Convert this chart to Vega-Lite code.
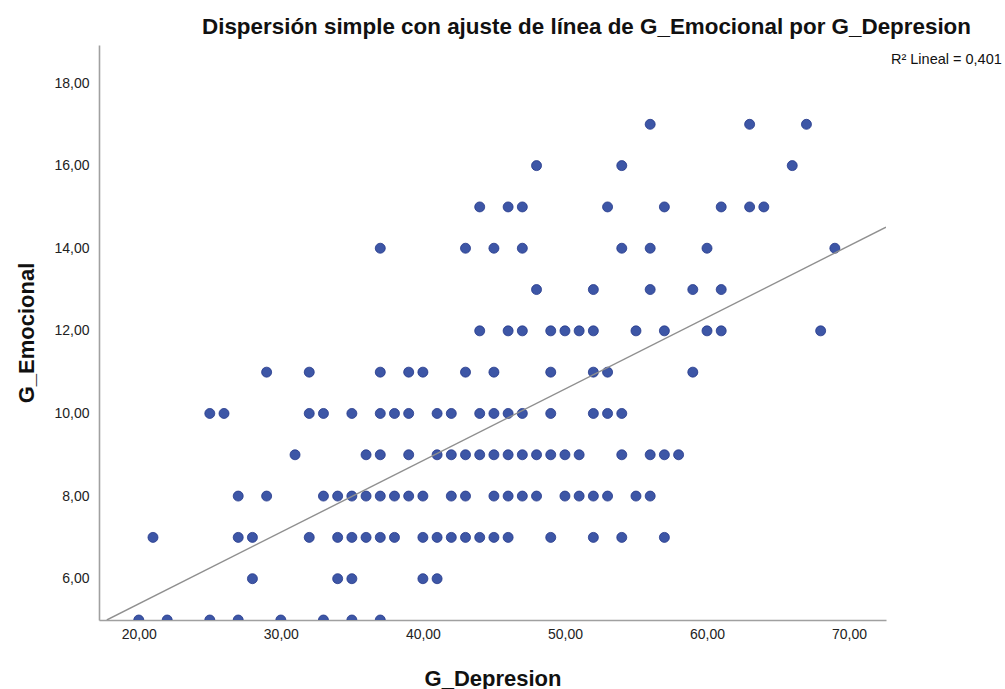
{
  "$schema": "https://vega.github.io/schema/vega-lite/v6.json",
  "autosize": "none",
  "width": 787,
  "height": 575,
  "padding": {"left": 99, "top": 45, "right": 119, "bottom": 69},
  "background": "white",
  "title": {
    "text": "Dispersión simple con ajuste de línea de G_Emocional por G_Depresion",
    "font": "Liberation Sans",
    "fontSize": 22.4,
    "fontWeight": "bold",
    "color": "#111",
    "anchor": "middle",
    "dx": 94,
    "offset": 7
  },
  "config": {
    "view": {"stroke": null},
    "axis": {
      "grid": false,
      "ticks": false,
      "domainColor": "#a0a0a0",
      "domainWidth": 1.6,
      "labelFont": "Liberation Sans",
      "labelFontSize": 14,
      "labelColor": "#222",
      "titleFont": "Liberation Sans",
      "titleFontSize": 22,
      "titleFontWeight": "bold",
      "titleColor": "#111",
      "zindex": 1
    }
  },
  "datasets": {
    "pts": [
      {"G_Depresion": 20, "G_Emocional": 5}, {"G_Depresion": 22, "G_Emocional": 5}, {"G_Depresion": 25, "G_Emocional": 5}, {"G_Depresion": 27, "G_Emocional": 5}, {"G_Depresion": 30, "G_Emocional": 5}, {"G_Depresion": 33, "G_Emocional": 5}, {"G_Depresion": 35, "G_Emocional": 5}, {"G_Depresion": 37, "G_Emocional": 5},
      {"G_Depresion": 28, "G_Emocional": 6}, {"G_Depresion": 34, "G_Emocional": 6}, {"G_Depresion": 35, "G_Emocional": 6}, {"G_Depresion": 40, "G_Emocional": 6}, {"G_Depresion": 41, "G_Emocional": 6},
      {"G_Depresion": 21, "G_Emocional": 7}, {"G_Depresion": 27, "G_Emocional": 7}, {"G_Depresion": 28, "G_Emocional": 7}, {"G_Depresion": 32, "G_Emocional": 7}, {"G_Depresion": 34, "G_Emocional": 7}, {"G_Depresion": 35, "G_Emocional": 7}, {"G_Depresion": 36, "G_Emocional": 7}, {"G_Depresion": 37, "G_Emocional": 7}, {"G_Depresion": 38, "G_Emocional": 7}, {"G_Depresion": 40, "G_Emocional": 7}, {"G_Depresion": 41, "G_Emocional": 7}, {"G_Depresion": 42, "G_Emocional": 7}, {"G_Depresion": 43, "G_Emocional": 7}, {"G_Depresion": 44, "G_Emocional": 7}, {"G_Depresion": 45, "G_Emocional": 7}, {"G_Depresion": 46, "G_Emocional": 7}, {"G_Depresion": 49, "G_Emocional": 7}, {"G_Depresion": 52, "G_Emocional": 7}, {"G_Depresion": 54, "G_Emocional": 7}, {"G_Depresion": 57, "G_Emocional": 7},
      {"G_Depresion": 27, "G_Emocional": 8}, {"G_Depresion": 29, "G_Emocional": 8}, {"G_Depresion": 33, "G_Emocional": 8}, {"G_Depresion": 34, "G_Emocional": 8}, {"G_Depresion": 35, "G_Emocional": 8}, {"G_Depresion": 36, "G_Emocional": 8}, {"G_Depresion": 37, "G_Emocional": 8}, {"G_Depresion": 38, "G_Emocional": 8}, {"G_Depresion": 39, "G_Emocional": 8}, {"G_Depresion": 40, "G_Emocional": 8}, {"G_Depresion": 42, "G_Emocional": 8}, {"G_Depresion": 43, "G_Emocional": 8}, {"G_Depresion": 45, "G_Emocional": 8}, {"G_Depresion": 46, "G_Emocional": 8}, {"G_Depresion": 47, "G_Emocional": 8}, {"G_Depresion": 48, "G_Emocional": 8}, {"G_Depresion": 50, "G_Emocional": 8}, {"G_Depresion": 51, "G_Emocional": 8}, {"G_Depresion": 52, "G_Emocional": 8}, {"G_Depresion": 53, "G_Emocional": 8}, {"G_Depresion": 55, "G_Emocional": 8}, {"G_Depresion": 56, "G_Emocional": 8},
      {"G_Depresion": 31, "G_Emocional": 9}, {"G_Depresion": 36, "G_Emocional": 9}, {"G_Depresion": 37, "G_Emocional": 9}, {"G_Depresion": 39, "G_Emocional": 9}, {"G_Depresion": 41, "G_Emocional": 9}, {"G_Depresion": 42, "G_Emocional": 9}, {"G_Depresion": 43, "G_Emocional": 9}, {"G_Depresion": 44, "G_Emocional": 9}, {"G_Depresion": 45, "G_Emocional": 9}, {"G_Depresion": 46, "G_Emocional": 9}, {"G_Depresion": 47, "G_Emocional": 9}, {"G_Depresion": 48, "G_Emocional": 9}, {"G_Depresion": 49, "G_Emocional": 9}, {"G_Depresion": 50, "G_Emocional": 9}, {"G_Depresion": 51, "G_Emocional": 9}, {"G_Depresion": 54, "G_Emocional": 9}, {"G_Depresion": 56, "G_Emocional": 9}, {"G_Depresion": 57, "G_Emocional": 9}, {"G_Depresion": 58, "G_Emocional": 9},
      {"G_Depresion": 25, "G_Emocional": 10}, {"G_Depresion": 26, "G_Emocional": 10}, {"G_Depresion": 32, "G_Emocional": 10}, {"G_Depresion": 33, "G_Emocional": 10}, {"G_Depresion": 35, "G_Emocional": 10}, {"G_Depresion": 37, "G_Emocional": 10}, {"G_Depresion": 38, "G_Emocional": 10}, {"G_Depresion": 39, "G_Emocional": 10}, {"G_Depresion": 41, "G_Emocional": 10}, {"G_Depresion": 42, "G_Emocional": 10}, {"G_Depresion": 44, "G_Emocional": 10}, {"G_Depresion": 45, "G_Emocional": 10}, {"G_Depresion": 46, "G_Emocional": 10}, {"G_Depresion": 47, "G_Emocional": 10}, {"G_Depresion": 49, "G_Emocional": 10}, {"G_Depresion": 52, "G_Emocional": 10}, {"G_Depresion": 53, "G_Emocional": 10}, {"G_Depresion": 54, "G_Emocional": 10},
      {"G_Depresion": 29, "G_Emocional": 11}, {"G_Depresion": 32, "G_Emocional": 11}, {"G_Depresion": 37, "G_Emocional": 11}, {"G_Depresion": 39, "G_Emocional": 11}, {"G_Depresion": 40, "G_Emocional": 11}, {"G_Depresion": 43, "G_Emocional": 11}, {"G_Depresion": 45, "G_Emocional": 11}, {"G_Depresion": 49, "G_Emocional": 11}, {"G_Depresion": 52, "G_Emocional": 11}, {"G_Depresion": 53, "G_Emocional": 11}, {"G_Depresion": 59, "G_Emocional": 11},
      {"G_Depresion": 44, "G_Emocional": 12}, {"G_Depresion": 46, "G_Emocional": 12}, {"G_Depresion": 47, "G_Emocional": 12}, {"G_Depresion": 49, "G_Emocional": 12}, {"G_Depresion": 50, "G_Emocional": 12}, {"G_Depresion": 51, "G_Emocional": 12}, {"G_Depresion": 52, "G_Emocional": 12}, {"G_Depresion": 55, "G_Emocional": 12}, {"G_Depresion": 57, "G_Emocional": 12}, {"G_Depresion": 60, "G_Emocional": 12}, {"G_Depresion": 61, "G_Emocional": 12}, {"G_Depresion": 68, "G_Emocional": 12},
      {"G_Depresion": 48, "G_Emocional": 13}, {"G_Depresion": 52, "G_Emocional": 13}, {"G_Depresion": 56, "G_Emocional": 13}, {"G_Depresion": 59, "G_Emocional": 13}, {"G_Depresion": 61, "G_Emocional": 13},
      {"G_Depresion": 37, "G_Emocional": 14}, {"G_Depresion": 43, "G_Emocional": 14}, {"G_Depresion": 45, "G_Emocional": 14}, {"G_Depresion": 47, "G_Emocional": 14}, {"G_Depresion": 54, "G_Emocional": 14}, {"G_Depresion": 56, "G_Emocional": 14}, {"G_Depresion": 60, "G_Emocional": 14}, {"G_Depresion": 69, "G_Emocional": 14},
      {"G_Depresion": 44, "G_Emocional": 15}, {"G_Depresion": 46, "G_Emocional": 15}, {"G_Depresion": 47, "G_Emocional": 15}, {"G_Depresion": 53, "G_Emocional": 15}, {"G_Depresion": 57, "G_Emocional": 15}, {"G_Depresion": 61, "G_Emocional": 15}, {"G_Depresion": 63, "G_Emocional": 15}, {"G_Depresion": 64, "G_Emocional": 15},
      {"G_Depresion": 48, "G_Emocional": 16}, {"G_Depresion": 54, "G_Emocional": 16}, {"G_Depresion": 66, "G_Emocional": 16},
      {"G_Depresion": 56, "G_Emocional": 17}, {"G_Depresion": 63, "G_Emocional": 17}, {"G_Depresion": 67, "G_Emocional": 17}
    ],
    "fit": [
      {"G_Depresion": 17.75, "G_Emocional": 5.0},
      {"G_Depresion": 72.6, "G_Emocional": 14.51}
    ],
    "note": [
      {"label": "R² Lineal = 0,401", "G_Depresion": 72.95, "G_Emocional": 18.55}
    ]
  },
  "layer": [
    {
      "data": {"name": "pts"},
      "mark": {"type": "point", "filled": true, "size": 100, "fill": "#3d56a6", "stroke": "#24398a", "strokeWidth": 0.8, "opacity": 1, "clip": true},
      "encoding": {
        "x": {
          "field": "G_Depresion", "type": "quantitative",
          "scale": {"domain": [17.2, 72.6], "nice": false, "zero": false},
          "axis": {
            "title": "G_Depresion",
            "values": [20, 30, 40, 50, 60, 70],
            "labelExpr": "replace(format(datum.value, '.2f'), '.', ',')",
            "labelPadding": 7,
            "titleBaseline": "alphabetic",
            "titleY": 65
          }
        },
        "y": {
          "field": "G_Emocional", "type": "quantitative",
          "scale": {"domain": [5, 18.92], "nice": false, "zero": false},
          "axis": {
            "title": "G_Emocional",
            "values": [6, 8, 10, 12, 14, 16, 18],
            "labelExpr": "replace(format(datum.value, '.2f'), '.', ',')",
            "labelPadding": 10,
            "titleBaseline": "alphabetic",
            "titleAngle": -90,
            "titleX": -66
          }
        }
      }
    },
    {
      "data": {"name": "fit"},
      "mark": {"type": "line", "color": "#8f8f8f", "strokeWidth": 1.4, "clip": true},
      "encoding": {
        "x": {"field": "G_Depresion", "type": "quantitative"},
        "y": {"field": "G_Emocional", "type": "quantitative"}
      }
    },
    {
      "data": {"name": "note"},
      "mark": {"type": "text", "align": "left", "baseline": "middle", "font": "Liberation Sans", "fontSize": 14.5, "color": "#111"},
      "encoding": {
        "x": {"field": "G_Depresion", "type": "quantitative"},
        "y": {"field": "G_Emocional", "type": "quantitative"},
        "text": {"field": "label"}
      }
    }
  ]
}
